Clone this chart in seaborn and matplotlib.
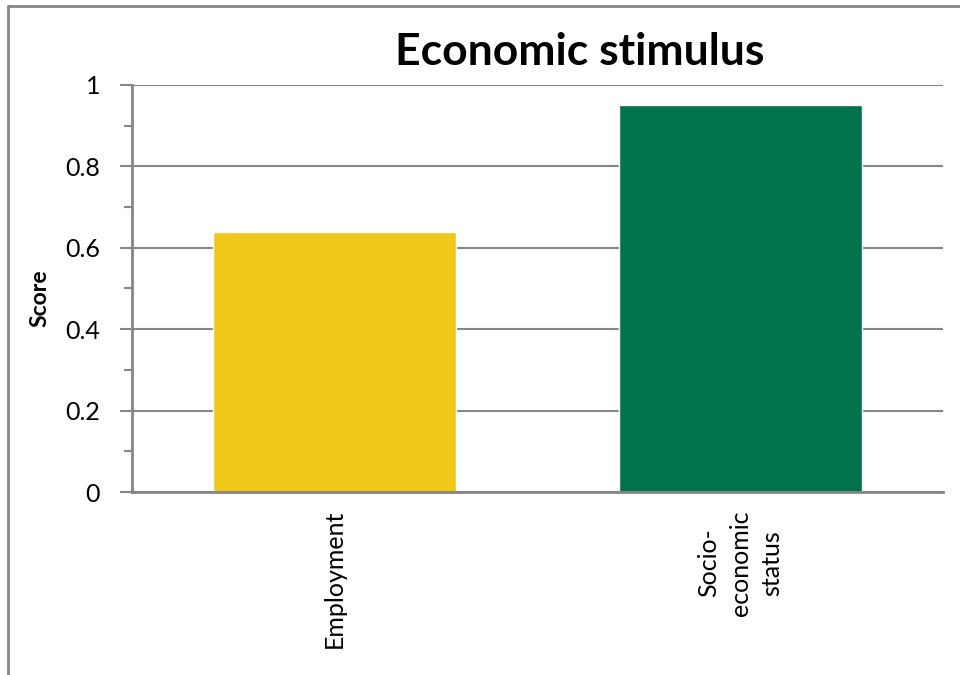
import numpy as np
import matplotlib
matplotlib.use("Agg")
import matplotlib.pyplot as plt
import seaborn as sns
from matplotlib.lines import Line2D
from matplotlib.ticker import MultipleLocator

# data
categories = ["Employment", "Socio-\neconomic\nstatus"]
scores = [0.64, 0.95]
bar_colors = ["#F0C81A", "#00734A"]
yticks = [0, 0.2, 0.4, 0.6, 0.8, 1]
ytick_labels = ["0", "0.2", "0.4", "0.6", "0.8", "1"]

sns.set_style("white")
plt.rcParams["font.family"] = ["Lato", "DejaVu Sans"]
plt.rcParams["text.color"] = "black"

grey = "#868686"

fig = plt.figure(figsize=(9.6, 6.75), dpi=100)
ax = fig.add_axes([132 / 960, 1 - 492 / 675, (943 - 132) / 960, (492 - 85) / 675])

sns.barplot(x=categories, y=scores, hue=categories, palette=bar_colors,
            legend=False, width=0.6, saturation=1, ax=ax)

ax.set_ylim(0, 1)
ax.set_yticks(yticks)
ax.set_yticklabels(ytick_labels, fontsize=18, color="black")
ax.yaxis.set_minor_locator(MultipleLocator(0.1))
ax.tick_params(axis="y", which="major", length=9, width=1.5, color=grey, left=True, pad=14)
ax.tick_params(axis="y", which="minor", length=6, width=1.5, color=grey, left=True)
ax.tick_params(axis="x", which="both", length=0, pad=13)
ax.set_xticks(range(len(categories)))
ax.set_xticklabels(categories, rotation=90, fontsize=18, ha="center", va="top",
                   multialignment="center", color="black", linespacing=1.45)

ax.grid(axis="y", which="major", color=grey, linewidth=1.5)
ax.set_axisbelow(True)
for s in ["top", "right"]:
    ax.spines[s].set_visible(False)
for s in ["left", "bottom"]:
    ax.spines[s].set_color(grey)
    ax.spines[s].set_linewidth(2)

ax.set_xlabel("")
ax.set_ylabel("")
fig.text(40 / 960, 1 - 298 / 675, "Score", rotation=90, ha="center", va="center",
         fontsize=16.5, fontweight="bold", color="black")

fig.text(580 / 960, 1 - 52 / 675, "Economic stimulus", ha="center", va="center",
         fontsize=32, fontweight="bold", color="black")

# outer chart border (left and top edges)
fig.add_artist(Line2D([8 / 960, 8 / 960], [0, 1 - 6 / 675], transform=fig.transFigure,
                      color=grey, linewidth=2))
fig.add_artist(Line2D([8 / 960, 1], [1 - 6 / 675, 1 - 6 / 675], transform=fig.transFigure,
                      color=grey, linewidth=2))

fig.savefig("out.png", dpi=100)
